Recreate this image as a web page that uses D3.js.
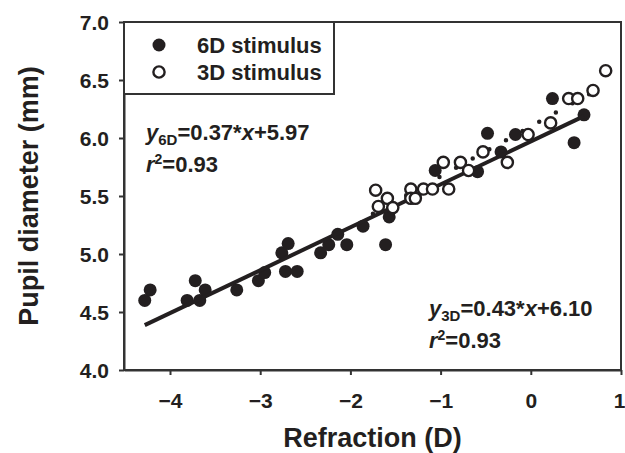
<!DOCTYPE html>
<html>
<head>
<meta charset="utf-8">
<script src="https://cdn.jsdelivr.net/npm/d3@7"></script>
<style>
  body { margin: 0; background: #fff; }
  svg text { font-family: "Liberation Sans", Arial, sans-serif; font-weight: bold; fill: #231f20; }
</style>
</head>
<body>
<div id="chart"></div>
<script>
// data
var refraction6D = [-4.28, -4.22, -3.81, -3.72, -3.67, -3.61, -3.26, -3.02, -2.95, -2.72, -2.59, -2.76, -2.69,
  -2.33, -2.24, -2.14, -2.04, -1.86, -1.61, -1.57, -1.06, -0.59, -0.48, -0.33, -0.17, 0.24, 0.48, 0.59];
var pupil6D = [4.60, 4.69, 4.60, 4.77, 4.60, 4.69, 4.69, 4.77, 4.84, 4.85, 4.85, 5.01, 5.09,
  5.01, 5.08, 5.17, 5.08, 5.24, 5.08, 5.32, 5.72, 5.71, 6.04, 5.88, 6.03, 6.34, 5.96, 6.20];
var refraction3D = [-1.72, -1.69, -1.59, -1.53, -1.33, -1.33, -1.28, -1.19, -1.09, -0.91, -0.97, -0.78,
  -0.69, -0.53, -0.26, -0.03, 0.22, 0.42, 0.52, 0.69, 0.83];
var pupil3D = [5.55, 5.41, 5.48, 5.40, 5.56, 5.48, 5.48, 5.56, 5.56, 5.56, 5.79, 5.79,
  5.72, 5.88, 5.79, 6.03, 6.13, 6.34, 6.34, 6.41, 6.58];
var xTicks = [-4, -3, -2, -1, 0, 1];
var yTicks = [4.0, 4.5, 5.0, 5.5, 6.0, 6.5, 7.0];
var fit6D = { slope: 0.37, intercept: 5.97, from: -4.28, to: 0.59 };
var fit3D = { slope: 0.43, intercept: 6.10, from: -1.75, to: 0.83 };

var width = 625, height = 453;
var margin = { top: 22, right: 4, bottom: 83, left: 124 };
var ink = "#231f20";

var svg = d3.select("#chart").append("svg")
  .attr("width", width)
  .attr("height", height);

var x = d3.scaleLinear().domain([-4.51, 1]).range([margin.left, width - margin.right]);
var y = d3.scaleLinear().domain([4, 7]).range([height - margin.bottom, margin.top]);

// frame
svg.append("rect")
  .attr("x", x(-4.51)).attr("y", y(7))
  .attr("width", x(1) - x(-4.51)).attr("height", y(4) - y(7))
  .attr("fill", "none").attr("stroke", "#333").attr("stroke-width", 2);

// axes
var xAxis = svg.append("g")
  .attr("transform", "translate(0," + y(4) + ")")
  .call(d3.axisBottom(x).tickValues(xTicks).tickSize(5).tickSizeOuter(0)
    .tickFormat(function (d) { return d < 0 ? "\u2212" + Math.abs(d) : d; }));
var yAxis = svg.append("g")
  .attr("transform", "translate(" + x(-4.51) + ",0)")
  .call(d3.axisLeft(y).tickValues(yTicks).tickSize(5).tickSizeOuter(0).tickFormat(d3.format(".1f")));
[xAxis, yAxis].forEach(function (g) {
  g.select(".domain").attr("stroke", "#333").attr("stroke-width", 2);
  g.selectAll(".tick line").attr("stroke", "#333").attr("stroke-width", 2);
  g.selectAll(".tick text").attr("font-size", 21).attr("fill", ink).style("font-family", null);
});
xAxis.selectAll(".tick text").attr("dy", null).attr("y", 0)
  .attr("transform", function (d) { return d === 1 ? "translate(-2,38)" : "translate(0,38)"; });
yAxis.selectAll(".tick text").attr("x", -15).attr("dy", "0.36em");

// axis titles
svg.append("text")
  .attr("x", (x(-4.51) + x(1)) / 2).attr("y", 447)
  .attr("text-anchor", "middle").attr("font-size", 27)
  .text("Refraction (D)");
svg.append("text")
  .attr("transform", "translate(38," + (y(4) + y(7)) / 2 + ") rotate(-90)")
  .attr("text-anchor", "middle").attr("font-size", 27)
  .text("Pupil diameter (mm)");

// 6D points
svg.append("g").selectAll("circle")
  .data(d3.range(refraction6D.length))
  .join("circle")
  .attr("cx", function (i) { return x(refraction6D[i]); })
  .attr("cy", function (i) { return y(pupil6D[i]); })
  .attr("r", 6.5)
  .attr("fill", ink);

// regression lines
var fitLine = function (f) {
  return d3.line()([[x(f.from), y(f.slope * f.from + f.intercept)], [x(f.to), y(f.slope * f.to + f.intercept)]]);
};
svg.append("path")
  .attr("d", fitLine(fit6D))
  .attr("stroke", ink).attr("stroke-width", 4).attr("fill", "none");
svg.append("path")
  .attr("d", fitLine(fit3D))
  .attr("stroke", ink).attr("stroke-width", 4.5).attr("fill", "none")
  .attr("stroke-linecap", "round").attr("stroke-dasharray", "0,19");

// 3D points
svg.append("g").selectAll("circle")
  .data(d3.range(refraction3D.length))
  .join("circle")
  .attr("cx", function (i) { return x(refraction3D[i]); })
  .attr("cy", function (i) { return y(pupil3D[i]); })
  .attr("r", 5.6)
  .attr("fill", "#fff").attr("stroke", ink).attr("stroke-width", 2.4);

// legend
var legend = svg.append("g");
legend.append("rect")
  .attr("x", 124).attr("y", 22).attr("width", 210).attr("height", 72)
  .attr("fill", "#fff").attr("stroke", "#333").attr("stroke-width", 2);
legend.append("circle").attr("cx", 159).attr("cy", 45).attr("r", 6.5).attr("fill", ink);
legend.append("circle").attr("cx", 159).attr("cy", 72).attr("r", 5.6)
  .attr("fill", "#fff").attr("stroke", ink).attr("stroke-width", 2.4);
legend.append("text").attr("x", 197).attr("y", 53).attr("font-size", 22).text("6D stimulus");
legend.append("text").attr("x", 197).attr("y", 80).attr("font-size", 22).text("3D stimulus");

// equations
function equation(x0, y0, sub, fit) {
  var t = svg.append("text").attr("x", x0).attr("y", y0).attr("font-size", 22);
  t.append("tspan").attr("font-style", "italic").text("y");
  t.append("tspan").attr("font-size", 15).attr("dy", 5).text(sub);
  t.append("tspan").attr("dy", -5).text("=" + fit.slope.toFixed(2) + "*");
  t.append("tspan").attr("font-style", "italic").text("x");
  t.append("tspan").text("+" + fit.intercept.toFixed(2));
  var r = svg.append("text").attr("x", x0).attr("y", y0 + 32).attr("font-size", 22);
  r.append("tspan").attr("font-style", "italic").text("r");
  r.append("tspan").attr("font-size", 14).attr("dy", -8).text("2");
  r.append("tspan").attr("dy", 8).text("=0.93");
}
equation(146, 140, "6D", fit6D);
equation(429, 316, "3D", fit3D);
</script>
</body>
</html>
